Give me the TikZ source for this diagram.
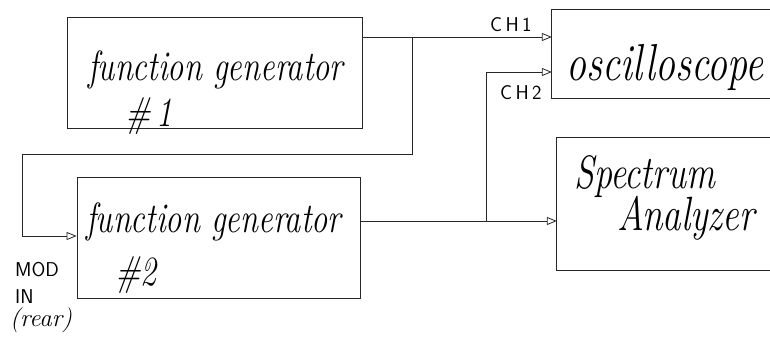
\documentclass[tikz,border=0pt]{standalone}
\usepackage{fontspec}
\usetikzlibrary{arrows.meta}
\newcommand{\hw}[2]{\scalebox{1}[1.3]{\fontsize{#1}{#1}\selectfont\itshape #2}}
\begin{document}
\begin{tikzpicture}[x=1pt,y=-1pt,
  box/.style={draw=black!85,line width=0.8pt,minimum width=#1,inner sep=0pt},
  openbox/.style={inner sep=0pt},
  wire/.style={draw=black!85,line width=0.8pt},
  arr/.style={wire,-{Triangle[open,length=10pt,width=8pt]}},
  hand/.style={inner sep=0pt,anchor=base west},
  lbl/.style={font=\sffamily\fontsize{20}{20}\selectfont,inner sep=0pt,anchor=base west}]
\useasboundingbox (0,0) rectangle (770,343);
\clip (0,0) rectangle (770,343);
% boxes
\node[box=295pt,minimum height=111pt] (fg1) at (214.5,72.5) {};
\node[box=283pt,minimum height=121pt] (fg2) at (218.5,237.5) {};
\node[openbox,minimum width=248pt,minimum height=88pt] (osc) at (676,54) {};
\node[openbox,minimum width=242pt,minimum height=132pt] (sa) at (678,204) {};
\draw[wire] (osc.north east) -- (osc.north west) -- (osc.south west) -- (osc.south east);
\draw[wire] (sa.north east) -- (sa.north west) -- (sa.south west) -- (sa.south east);
% texts
\node[hand] (t1) at (88,80) {\hw{32.5}{function generator}};
\node[hand] (n1) at (125,126) {\hw{32}{\#\,1}};
\node[hand] (t2) at (86,232) {\hw{32.5}{function generator}};
\node[hand] (n2) at (115,285) {\hw{32}{\#2}};
\node[hand] (t3) at (566,80) {\hw{40}{oscilloscope}};
\node[hand] (t4) at (574,188) {\hw{36}{Spectrum}};
\node[hand] (t5) at (617,230) {\hw{37}{Analyzer}};
\node[lbl] (ch1) at (490,31) {C\,H\,1};
\node[lbl] (ch2) at (500,99) {C\,H\,2};
\node[lbl] (mod) at (15,276) {MOD};
\node[lbl] (in) at (15,303) {IN};
\node[hand] (rear) at (10,326) {\fontsize{25}{25}\selectfont\itshape (rear)};
% coordinates
\coordinate (r1) at (0,37);
\coordinate (b1) at (412,37);
\coordinate (c1) at (412,154);
\coordinate (c2) at (22,154);
\coordinate (c3) at (22,236);
\coordinate (r3) at (0,221);
\coordinate (b2) at (486,221);
\coordinate (r4) at (486,72);
% connectors
\draw[arr] (fg1.east |- r1) -- (osc.west |- r1);
\draw[arr] (b1) -- (c1) -- (c2) -- (c3) -- (fg2.west |- c3);
\draw[arr] (fg2.east |- r3) -- (sa.west |- r3);
\draw[arr] (b2) -- (r4) -- (osc.west |- r4);
\end{tikzpicture}
\end{document}
